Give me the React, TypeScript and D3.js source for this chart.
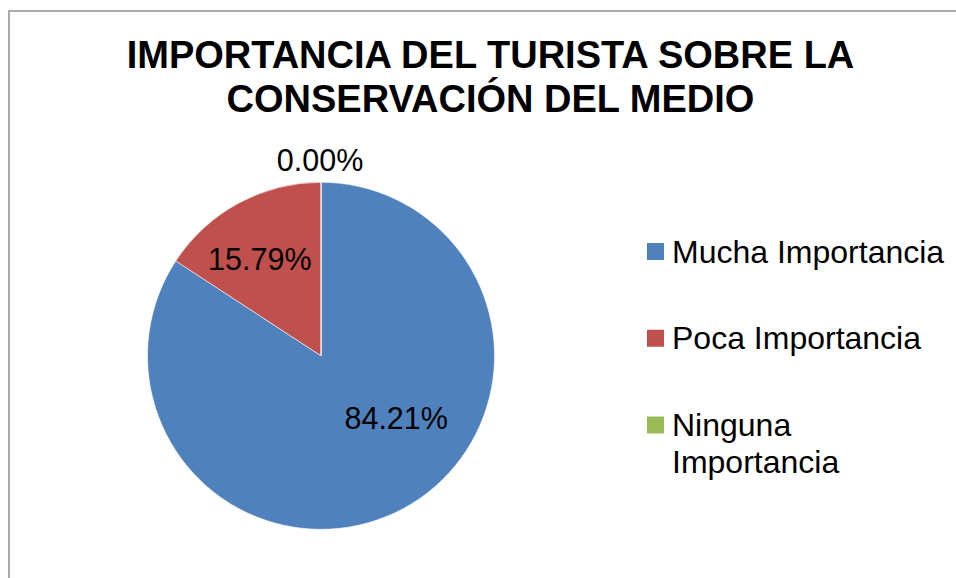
import React from "react";
import * as d3 from "d3";

const titleLines = ["IMPORTANCIA DEL TURISTA SOBRE LA", "CONSERVACIÓN DEL MEDIO"];
const categories = ["Mucha Importancia", "Poca Importancia", "Ninguna Importancia"];
const legendLines = [["Mucha Importancia"], ["Poca Importancia"], ["Ninguna", "Importancia"]];
const values = [84.21, 15.79, 0.0];
const colors = ["#4F81BD", "#C0504D", "#9BBB59"];

const W = 956;
const H = 578;
const FONT = "'Liberation Sans', Arial, Helvetica, sans-serif";

// label placement tweaks (Excel "best fit" style)
const labelNudge: [number, number][] = [[24, -32], [-10, -2], [-1, 0]];

export default function App() {
  const cx = 321;
  const cy = 355.8;
  const r = 173.5;

  const pie = d3
    .pie<number>()
    .sort(null)
    .value((d) => d);
  const arcs = pie(values);
  const arcGen = d3.arc<d3.PieArcDatum<number>>().innerRadius(0).outerRadius(r);
  const labelR = r * 0.62;
  const labelArc = d3.arc<d3.PieArcDatum<number>>().innerRadius(labelR).outerRadius(labelR);
  const outsideArc = d3.arc<d3.PieArcDatum<number>>().innerRadius(r + 21.5).outerRadius(r + 21.5);

  const fmt = (v: number) => v.toFixed(2) + "%";

  const legendY = d3.scalePoint<string>().domain(categories).range([251.5, 425]);

  return (
    <svg
      width={W}
      height={H}
      style={{ position: "absolute", left: 0, top: 0, background: "#fff" }}
      fontFamily={FONT}
    >
      <rect x={0} y={0} width={W} height={H} fill="#fff" />
      <rect x={9} y={11} width={990} height={620} fill="#fff" stroke="#969696" strokeWidth={1.6} />

      <g>
        {titleLines.map((t, i) => (
          <text
            key={i}
            x={490.5}
            y={68 + i * 43.5}
            textAnchor="middle"
            fontSize={38}
            fontWeight="bold"
            fill="#000"
          >
            {t}
          </text>
        ))}
      </g>

      <g transform={`translate(${cx},${cy})`}>
        {arcs.map((a, i) => (
          <path key={i} d={arcGen(a) || ""} fill={colors[i]} stroke="#fff" strokeWidth={0.8} strokeOpacity={0.7} />
        ))}
        {arcs.map((a, i) => {
          const c = a.value > 0 ? labelArc.centroid(a) : outsideArc.centroid(a);
          const [nx, ny] = labelNudge[i];
          return (
            <text
              key={"l" + i}
              x={c[0] + nx}
              y={c[1] + ny}
              dy="0.35em"
              textAnchor="middle"
              fontSize={30.5}
              fill="#000"
            >
              {fmt(values[i])}
            </text>
          );
        })}
      </g>

      <g>
        {categories.map((cat, i) => {
          const y = legendY(cat) as number;
          return (
            <g key={cat}>
              <rect x={647} y={y - 8.5} width={17} height={17} fill={colors[i]} />
              {legendLines[i].map((ln, j) => (
                <text key={j} x={672} y={y + 11 + j * 36.5} fontSize={32} fill="#000">
                  {ln}
                </text>
              ))}
            </g>
          );
        })}
      </g>
    </svg>
  );
}
